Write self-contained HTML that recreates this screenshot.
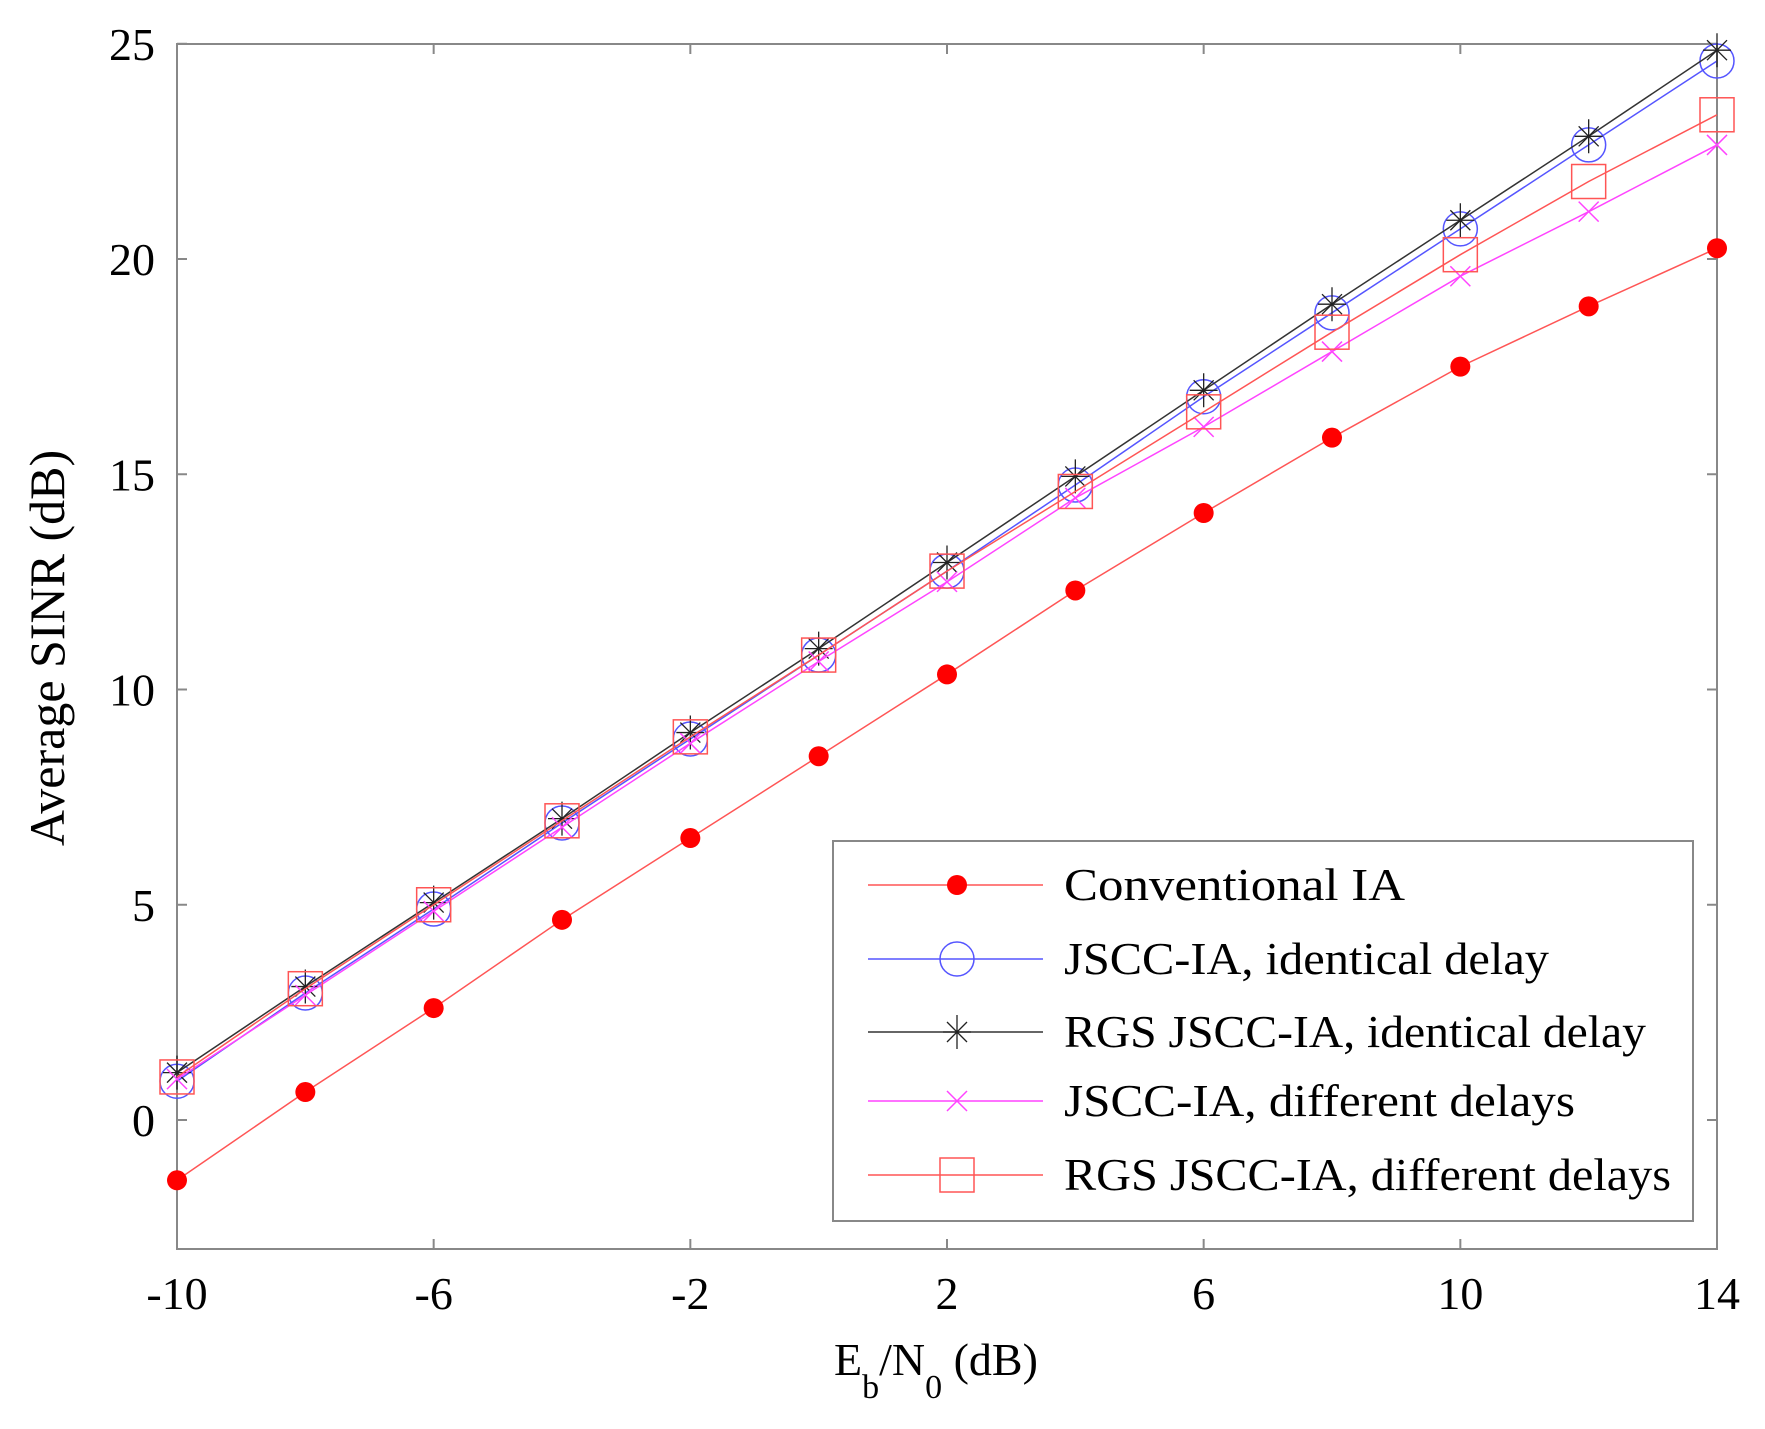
<!DOCTYPE html>
<html><head><meta charset="utf-8"><style>
body{margin:0;background:#fff}
text{font-family:"Liberation Serif",serif;fill:#000}
</style></head><body>
<svg id="chart" width="1765" height="1424" xmlns="http://www.w3.org/2000/svg">
<rect width="1765" height="1424" fill="#fff"/>
<g id="axes"></g>
<g id="series"></g>
<g id="legend"></g>
</svg>
<script>
const xVals=[-10,-8,-6,-4,-2,0,2,4,6,8,10,12,14];
const conventional=[-1.4,0.65,2.6,4.65,6.55,8.45,10.35,12.3,14.1,15.85,17.5,18.9,20.25];
const jsccIdentical=[0.9,2.95,4.9,6.9,8.85,10.8,12.75,14.75,16.8,18.75,20.7,22.65,24.6];
const rgsIdentical=[1.1,3.1,5.05,7.0,9.0,10.95,12.95,14.95,16.95,18.95,20.9,22.85,24.85];
const jsccDifferent=[0.95,2.9,4.85,6.8,8.75,10.65,12.5,14.45,16.1,17.85,19.6,21.1,22.65];
const rgsDifferent=[1.0,3.05,5.0,6.95,8.9,10.8,12.75,14.6,16.45,18.3,20.1,21.8,23.35];
const xTicks=[-10,-6,-2,2,6,10,14];
const yTicks=[0,5,10,15,20,25];
const seriesNames=["Conventional IA","JSCC-IA, identical delay","RGS JSCC-IA, identical delay","JSCC-IA, different delays","RGS JSCC-IA, different delays"];

const NS="http://www.w3.org/2000/svg";
const L=177,R=1717,T=44,B=1249;
const sx=v=>L+(v+10)/24*(R-L);
const sy=v=>1120-43.05*v;
function mk(tag,attrs,parent){const e=document.createElementNS(NS,tag);for(const k in attrs)e.setAttribute(k,attrs[k]);parent.appendChild(e);return e;}
const axes=document.getElementById('axes'),ser=document.getElementById('series'),leg=document.getElementById('legend');

const frame=mk('rect',{x:L,y:T,width:R-L,height:B-T,fill:'none',stroke:'#888','stroke-width':2},axes);


xTicks.forEach(v=>{
  const x=sx(v);
  mk('line',{x1:x,y1:B,x2:x,y2:B-10,stroke:'#888','stroke-width':2},axes);
  mk('line',{x1:x,y1:T,x2:x,y2:T+10,stroke:'#888','stroke-width':2},axes);
  const t=mk('text',{x:x,y:1309,'font-size':46,'text-anchor':'middle'},axes);
  t.textContent=v;
  
  
});
yTicks.forEach(v=>{
  const y=sy(v);
  mk('line',{x1:L,y1:y,x2:L+10,y2:y,stroke:'#888','stroke-width':2},axes);
  mk('line',{x1:R,y1:y,x2:R-10,y2:y,stroke:'#888','stroke-width':2},axes);
  const t=mk('text',{x:155,y:y+16,'font-size':46,'text-anchor':'end'},axes);
  t.textContent=v;
  
  
});
const yt=mk('text',{x:0,y:0,'font-size':50,'text-anchor':'middle',transform:'translate(64,648) rotate(-90)'},axes);
yt.textContent='Average SINR (dB)';


const xt=mk('text',{x:834,y:1375,'font-size':46},axes);
xt.innerHTML='E<tspan font-size="34" dy="23">b</tspan><tspan font-size="46" dy="-23">/N</tspan><tspan font-size="34" dy="23">0</tspan><tspan font-size="46" dy="-23"> (dB)</tspan>';



function marker(type,x,y,color,g){
  if(type==='dot')mk('circle',{cx:x,cy:y,r:10,fill:'#f00'},g);
  else if(type==='circle')mk('circle',{cx:x,cy:y,r:17,fill:'none',stroke:color,'stroke-width':1.5},g);
  else if(type==='square')mk('rect',{x:x-17,y:y-17,width:34,height:34,fill:'none',stroke:color,'stroke-width':1.5},g);
  else if(type==='x'){const d=10;mk('path',{d:`M${x-d},${y-d}L${x+d},${y+d}M${x-d},${y+d}L${x+d},${y-d}`,stroke:color,'stroke-width':1.5},g);}
  else if(type==='star'){const d=17,e=10;mk('path',{d:`M${x},${y-d}V${y+d}M${x-14},${y}H${x+14}M${x-e},${y-e}L${x+e},${y+e}M${x-e},${y+e}L${x+e},${y-e}`,stroke:color,'stroke-width':1.3},g);}
}
const defs=[
 {data:conventional,color:'#ff5555',m:'dot',mc:'#f00',name:'conventional-ia'},
 {data:jsccIdentical,color:'#5555ff',m:'circle',mc:'#5555ff',name:'jscc-ia-identical'},
 {data:rgsIdentical,color:'#333',m:'star',mc:'#222',name:'rgs-jscc-ia-identical'},
 {data:jsccDifferent,color:'#ff44ff',m:'x',mc:'#ff44ff',name:'jscc-ia-different'},
 {data:rgsDifferent,color:'#ff5555',m:'square',mc:'#ff5555',name:'rgs-jscc-ia-different'}
];
defs.forEach((d,i)=>{
  const g=mk('g',{},ser);
  
  
  const pts=xVals.map((x,j)=>sx(x)+','+sy(d.data[j])).join(' ');
  mk('polyline',{points:pts,fill:'none',stroke:d.color,'stroke-width':1.5},g);
  xVals.forEach((x,j)=>marker(d.m,sx(x),sy(d.data[j]),d.mc,g));
});
const lb=mk('rect',{x:833,y:841,width:860,height:380,fill:'#fff',stroke:'#888','stroke-width':2},leg);


const ly=[885,959,1032,1101,1175],lw=[341,485,582,511,607];
defs.forEach((d,i)=>{
  const g=mk('g',{},leg);
  
  
  mk('line',{x1:868,y1:ly[i],x2:1043,y2:ly[i],stroke:d.color,'stroke-width':1.5},g);
  marker(d.m,957,ly[i],d.mc,g);
  const t=mk('text',{x:1064,y:ly[i]+15,'font-size':46,textLength:lw[i],lengthAdjust:'spacingAndGlyphs'},g);
  t.textContent=seriesNames[i];
});
</script>
</body></html>
